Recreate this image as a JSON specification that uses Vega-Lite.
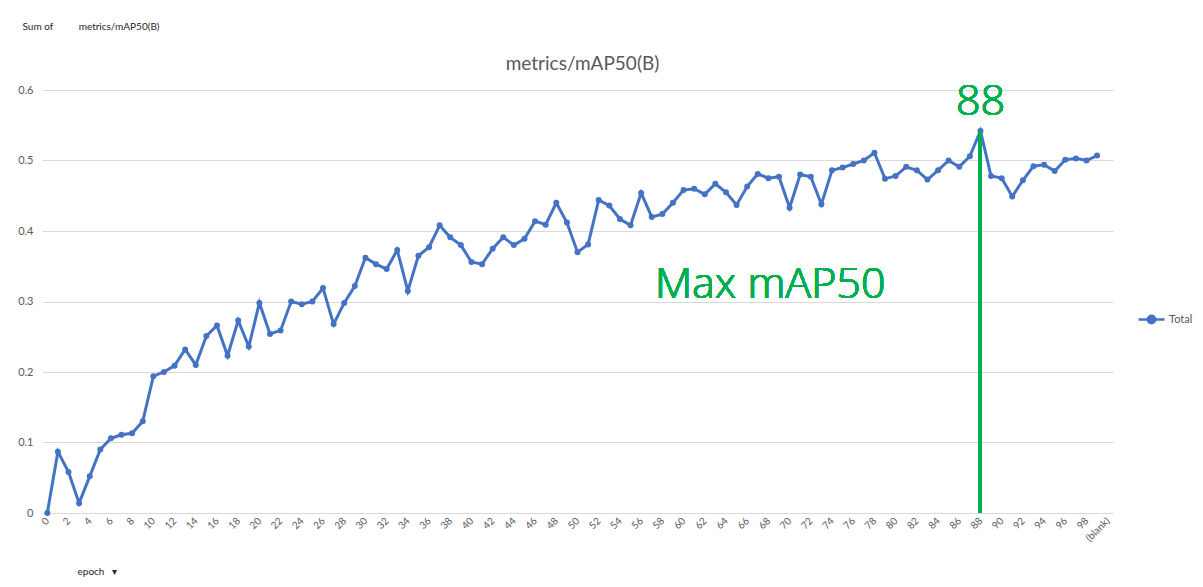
{
  "$schema": "https://vega.github.io/schema/vega-lite/v6.json",
  "width": 1071,
  "height": 423,
  "autosize": {"type": "none"},
  "padding": {"left": 42, "top": 90, "right": 90, "bottom": 74},
  "background": "white",
  "config": {"font": "Lato", "view": {"stroke": null}},
  "title": {"text": "metrics/mAP50(B)", "fontSize": 19, "fontWeight": "normal", "color": "#595959", "offset": 0, "dx": 5, "dy": 53},
  "data": {"values": [
    {"epoch": 0, "value": 0.0}, {"epoch": 1, "value": 0.087}, {"epoch": 2, "value": 0.058}, {"epoch": 3, "value": 0.014},
    {"epoch": 4, "value": 0.052}, {"epoch": 5, "value": 0.090}, {"epoch": 6, "value": 0.106}, {"epoch": 7, "value": 0.111},
    {"epoch": 8, "value": 0.113}, {"epoch": 9, "value": 0.130}, {"epoch": 10, "value": 0.194}, {"epoch": 11, "value": 0.200},
    {"epoch": 12, "value": 0.209}, {"epoch": 13, "value": 0.232}, {"epoch": 14, "value": 0.210}, {"epoch": 15, "value": 0.251},
    {"epoch": 16, "value": 0.266}, {"epoch": 17, "value": 0.223}, {"epoch": 18, "value": 0.273}, {"epoch": 19, "value": 0.236},
    {"epoch": 20, "value": 0.298}, {"epoch": 21, "value": 0.254}, {"epoch": 22, "value": 0.259}, {"epoch": 23, "value": 0.300},
    {"epoch": 24, "value": 0.296}, {"epoch": 25, "value": 0.300}, {"epoch": 26, "value": 0.319}, {"epoch": 27, "value": 0.268},
    {"epoch": 28, "value": 0.298}, {"epoch": 29, "value": 0.322}, {"epoch": 30, "value": 0.362}, {"epoch": 31, "value": 0.353},
    {"epoch": 32, "value": 0.346}, {"epoch": 33, "value": 0.373}, {"epoch": 34, "value": 0.315}, {"epoch": 35, "value": 0.365},
    {"epoch": 36, "value": 0.377}, {"epoch": 37, "value": 0.408}, {"epoch": 38, "value": 0.391}, {"epoch": 39, "value": 0.380},
    {"epoch": 40, "value": 0.356}, {"epoch": 41, "value": 0.353}, {"epoch": 42, "value": 0.375}, {"epoch": 43, "value": 0.391},
    {"epoch": 44, "value": 0.380}, {"epoch": 45, "value": 0.389}, {"epoch": 46, "value": 0.414}, {"epoch": 47, "value": 0.409},
    {"epoch": 48, "value": 0.440}, {"epoch": 49, "value": 0.412}, {"epoch": 50, "value": 0.370}, {"epoch": 51, "value": 0.381},
    {"epoch": 52, "value": 0.444}, {"epoch": 53, "value": 0.436}, {"epoch": 54, "value": 0.417}, {"epoch": 55, "value": 0.408},
    {"epoch": 56, "value": 0.454}, {"epoch": 57, "value": 0.420}, {"epoch": 58, "value": 0.424}, {"epoch": 59, "value": 0.440},
    {"epoch": 60, "value": 0.458}, {"epoch": 61, "value": 0.460}, {"epoch": 62, "value": 0.452}, {"epoch": 63, "value": 0.467},
    {"epoch": 64, "value": 0.455}, {"epoch": 65, "value": 0.437}, {"epoch": 66, "value": 0.463}, {"epoch": 67, "value": 0.481},
    {"epoch": 68, "value": 0.475}, {"epoch": 69, "value": 0.477}, {"epoch": 70, "value": 0.433}, {"epoch": 71, "value": 0.480},
    {"epoch": 72, "value": 0.477}, {"epoch": 73, "value": 0.438}, {"epoch": 74, "value": 0.486}, {"epoch": 75, "value": 0.490},
    {"epoch": 76, "value": 0.495}, {"epoch": 77, "value": 0.500}, {"epoch": 78, "value": 0.511}, {"epoch": 79, "value": 0.474},
    {"epoch": 80, "value": 0.478}, {"epoch": 81, "value": 0.491}, {"epoch": 82, "value": 0.486}, {"epoch": 83, "value": 0.473},
    {"epoch": 84, "value": 0.486}, {"epoch": 85, "value": 0.500}, {"epoch": 86, "value": 0.491}, {"epoch": 87, "value": 0.506},
    {"epoch": 88, "value": 0.542}, {"epoch": 89, "value": 0.478}, {"epoch": 90, "value": 0.475}, {"epoch": 91, "value": 0.449},
    {"epoch": 92, "value": 0.472}, {"epoch": 93, "value": 0.492}, {"epoch": 94, "value": 0.494}, {"epoch": 95, "value": 0.485},
    {"epoch": 96, "value": 0.501}, {"epoch": 97, "value": 0.503}, {"epoch": 98, "value": 0.500}, {"epoch": 99, "value": 0.507}
  ]},
  "encoding": {
    "x": {
      "field": "epoch", "type": "quantitative",
      "scale": {"domain": [-0.5, 100.5], "nice": false, "zero": false},
      "axis": {
        "values": [0,2,4,6,8,10,12,14,16,18,20,22,24,26,28,30,32,34,36,38,40,42,44,46,48,50,52,54,56,58,60,62,64,66,68,70,72,74,76,78,80,82,84,86,88,90,92,94,96,98,100],
        "labelExpr": "datum.value == 100 ? '(blank)' : datum.label",
        "format": "d",
        "labelAngle": -45, "labelAlign": "right", "labelBaseline": "middle",
        "labelFontSize": 10, "labelColor": "#595959", "labelPadding": 6,
        "labelOverlap": false, "labelBound": false,
        "ticks": false, "domain": true, "domainColor": "#D9D9D9", "domainWidth": 1, "grid": false,
        "title": "epoch\u00a0\u00a0\u00a0▾", "titleFontSize": 10, "titleFontWeight": "normal", "titleColor": "#262626",
        "titleAngle": 0, "titleX": 35, "titleY": 58, "titleAlign": "left", "titleBaseline": "middle"
      }
    },
    "y": {
      "field": "value", "type": "quantitative",
      "scale": {"domain": [0, 0.6], "nice": false},
      "axis": {
        "values": [0, 0.1, 0.2, 0.3, 0.4, 0.5, 0.6], "format": ".1~f",
        "labelFontSize": 11, "labelColor": "#595959", "labelPadding": 9,
        "ticks": false, "domain": false, "grid": true, "gridColor": "#D9D9D9", "gridWidth": 1,
        "title": "Sum of\u00a0\u00a0\u00a0\u00a0\u00a0\u00a0\u00a0\u00a0\u00a0\u00a0metrics/mAP50(B)", "titleFontSize": 10, "titleFontWeight": "normal", "titleColor": "#262626",
        "titleAngle": 0, "titleX": -20, "titleY": -64, "titleAlign": "left", "titleBaseline": "middle"
      }
    }
  },
  "layer": [
    {
      "mark": {"type": "line", "strokeWidth": 3},
      "encoding": {
        "color": {
          "datum": "Total", "type": "nominal",
          "scale": {"range": ["#4472C4"]},
          "legend": {
            "title": null, "orient": "none", "legendX": 1095, "legendY": 215, "padding": 0,
            "labelFontSize": 11, "labelColor": "#595959", "labelOffset": 3,
            "symbolType": "M-1,0H1M-0.28,0A0.28,0.28,0,1,1,0.28,0A0.28,0.28,0,1,1,-0.28,0Z",
            "symbolSize": 676,
            "encode": {"symbols": {"update": {"fill": {"value": "#4472C4"}, "stroke": {"value": "#4472C4"}, "strokeWidth": {"value": 2.5}, "opacity": {"value": 1}}}}
          }
        }
      }
    },
    {
      "mark": {"type": "point", "filled": true, "size": 36, "opacity": 1},
      "encoding": {"color": {"datum": "Total", "type": "nominal"}}
    },
    {
      "mark": {"type": "rule", "color": "#00B050", "strokeWidth": 3},
      "encoding": {"x": {"datum": 88}, "y": {"datum": 0.542}, "y2": {"datum": 0}}
    },
    {
      "mark": {"type": "text", "text": "88", "color": "#00B050", "font": "Open Sans", "fontSize": 43, "fontWeight": 300, "align": "center", "baseline": "alphabetic", "dy": -16},
      "encoding": {"x": {"datum": 88}, "y": {"datum": 0.542}}
    },
    {
      "mark": {"type": "text", "text": "Max mAP50", "color": "#00B050", "font": "Open Sans", "fontSize": 43, "fontWeight": 300, "align": "left", "baseline": "alphabetic"},
      "encoding": {"x": {"datum": 57.3}, "y": {"datum": 0.305}}
    }
  ]
}
